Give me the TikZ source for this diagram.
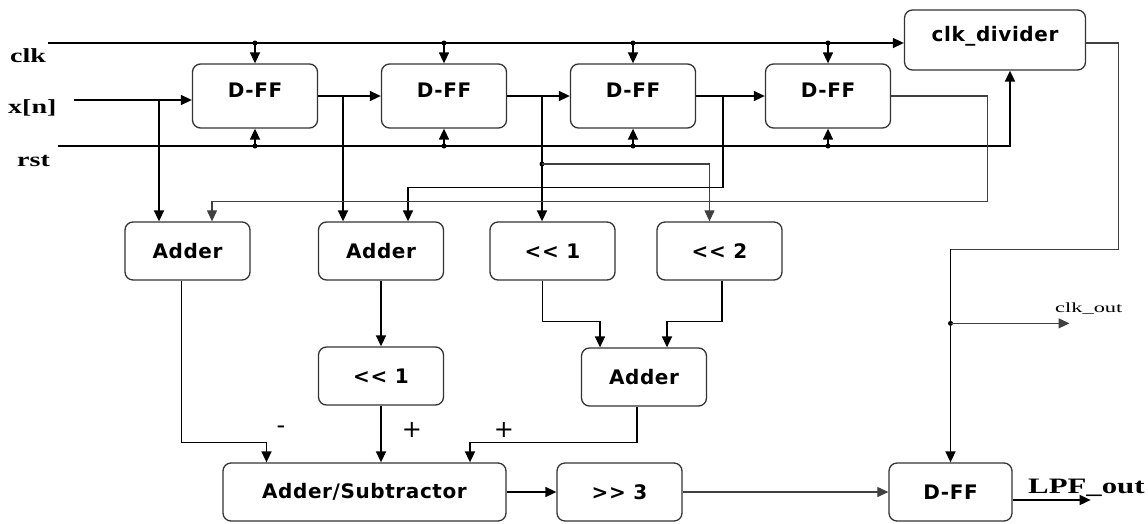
\documentclass[tikz,border=0pt]{standalone}
\usepackage{fontspec}
\newfontfamily\boxfont[LetterSpace=3]{DejaVu Sans}
\newfontfamily\sigfont[FakeStretch=1.4]{Liberation Serif}
\newfontfamily\smallsig[FakeStretch=1.6]{Liberation Serif}
\usetikzlibrary{positioning,calc,arrows.meta}

\begin{document}
\begin{tikzpicture}[x=1pt,y=-1pt,
    blk/.style={draw=black!80,line width=1.3pt,rounded corners=8pt,
      minimum width=125pt,minimum height=58pt,inner sep=0pt,
      font=\boxfont\bfseries\fontsize{20}{24}\selectfont},
    ff/.style={blk,minimum height=64pt,text height=14pt,text depth=12pt},
    sig/.style={anchor=base west,inner sep=0pt,
      font=\sigfont\bfseries\fontsize{20}{24}\selectfont},
    sign/.style={font=\boxfont\fontsize{24}{26}\selectfont},
    wire/.style={line width=1.6pt,-{Triangle[length=11pt,width=10pt]}},
    thin wire/.style={wire,line width=1.1pt,draw=black!75},
    thinline/.style={line width=1.1pt,draw=black!75}]
  \useasboundingbox (0,0) rectangle (1148,523);

  % inputs
  \node[sig] (clk) at (10,62) {clk};
  \node[sig] (xn) at (8,113) {x[n]};
  \node[sig] (rst) at (17,166) {rst};
  \coordinate (clkin) at (48,43);
  \coordinate (xin) at (74,100);
  \coordinate (rstin) at (58,146);

  % delay line
  \node[ff] (dff1) at (255,96) {D-FF};
  \node[ff] (dff2) at (444,96) {D-FF};
  \node[ff] (dff3) at (633,96) {D-FF};
  \node[ff] (dff4) at (828,96) {D-FF};
  \node[blk,minimum width=181pt,minimum height=60pt,text height=15pt,
    text depth=13pt] (clkdiv) at (995,40) {clk\_divider};

  % middle row
  \node[blk] (add1) at (187.5,251) {Adder};
  \node[blk] (add2) at (381,251) {Adder};
  \node[blk] (shl1) at (552.5,251) {<< 1};
  \node[blk] (shl2) at (719.5,251) {<< 2};
  \node[blk] (shl1b) at (381,376) {<< 1};
  \node[blk] (add3) at (644,377) {Adder};

  % output row
  \node[blk,minimum width=283pt] (addsub) at (364.5,492) {Adder/Subtractor};
  \node[blk] (shr3) at (619.5,492) {>> 3};
  \node[blk,minimum width=123pt] (dffo) at (950.5,492) {D-FF};
  \node[sig,font=\sigfont\bfseries\fontsize{22}{26}\selectfont] (lpf) at (1028,493) {LPF\_out};
  \node[anchor=base west,inner sep=0pt,font=\smallsig\fontsize{14}{16}\selectfont] (clkout) at (1055,312) {clk\_out};
  \node[sign] (sm) at (281,430) {-};
  \node[sign] (sp1) at (412,430) {+};
  \node[sign] (sp2) at (504,430) {+};

  % clock and reset
  \draw[wire] (clkin) -- (clkin -| clkdiv.west);
  \foreach \n in {dff1,dff2,dff3,dff4} {
    \draw[wire] (\n.north |- clkin) -- (\n.north);
    \fill (\n.north |- clkin) circle (2.5pt);
    \draw[wire] (\n.south |- rstin) -- (\n.south);
    \fill (\n.south |- rstin) circle (2.5pt);
  }
  \draw[wire] (rstin) -| ($(clkdiv.south)+(15,0)$);

  % data path
  \draw[wire] (xin) -- (xin -| dff1.west);
  \coordinate (jx) at (159,100);
  \draw[wire] (jx) -- (jx |- add1.north);
  \draw[wire] (dff1.east) -- (dff2.west);
  \coordinate (j1) at (343,96);
  \draw[wire] (j1) -- (j1 |- add2.north);
  \draw[wire] (dff2.east) -- (dff3.west);
  \coordinate (j2) at (542,96);
  \draw[wire] (j2) -- (j2 |- shl1.north);
  \coordinate (j2b) at (542,164);
  \fill (j2b) circle (2.5pt);
  \draw[thin wire] (j2b) -| ($(shl2.north)+(-10,0)$);
  \draw[wire] (dff3.east) -- (dff4.west);
  \coordinate (j3) at (723,96);
  \draw[wire] (j3) |- ($(add2.north)+(27,-34)$) -- ($(add2.north)+(27,0)$);
  \draw[thin wire] (dff4.east) -- ++(96,0) |- ($(add1.north)+(24.5,-20)$) -- ($(add1.north)+(24.5,0)$);

  \draw[wire] (add2.south) -- (shl1b.north);
  \draw[wire] ($(shl1.south)+(-10,0)$) |- ($(add3.north)+(-44,-26)$) -- ($(add3.north)+(-44,0)$);
  \draw[wire] ($(shl2.south)+(2.5,0)$) |- ($(add3.north)+(23,-26)$) -- ($(add3.north)+(23,0)$);

  \draw[wire] ($(add1.south)+(-6,0)$) |- ($(addsub.north)+(-98,-20)$) -- ($(addsub.north)+(-98,0)$);
  \draw[wire] (shl1b.south) -- (shl1b.south |- addsub.north);
  \draw[wire] ($(add3.south)+(-7,0)$) |- ($(addsub.north)+(105.5,-20)$) -- ($(addsub.north)+(105.5,0)$);
  \draw[wire] (addsub.east) -- (shr3.west);
  \draw[thin wire] (shr3.east) -- (dffo.west);
  \draw[wire] ($(dffo.east)+(0,8)$) -- ++(78,0);

  % divided clock
  \draw[thinline] ($(clkdiv.east)+(0,3)$) -- ++(32,0) |- ($(dffo.north)+(0,-213)$);
  \draw[wire] ($(dffo.north)+(0,-213)$) -- (dffo.north);
  \coordinate (j5) at ($(dffo.north)+(0,-139)$);
  \fill (j5) circle (2.5pt);
  \draw[thin wire] (j5) -- ++(119,0);
\end{tikzpicture}
\end{document}
